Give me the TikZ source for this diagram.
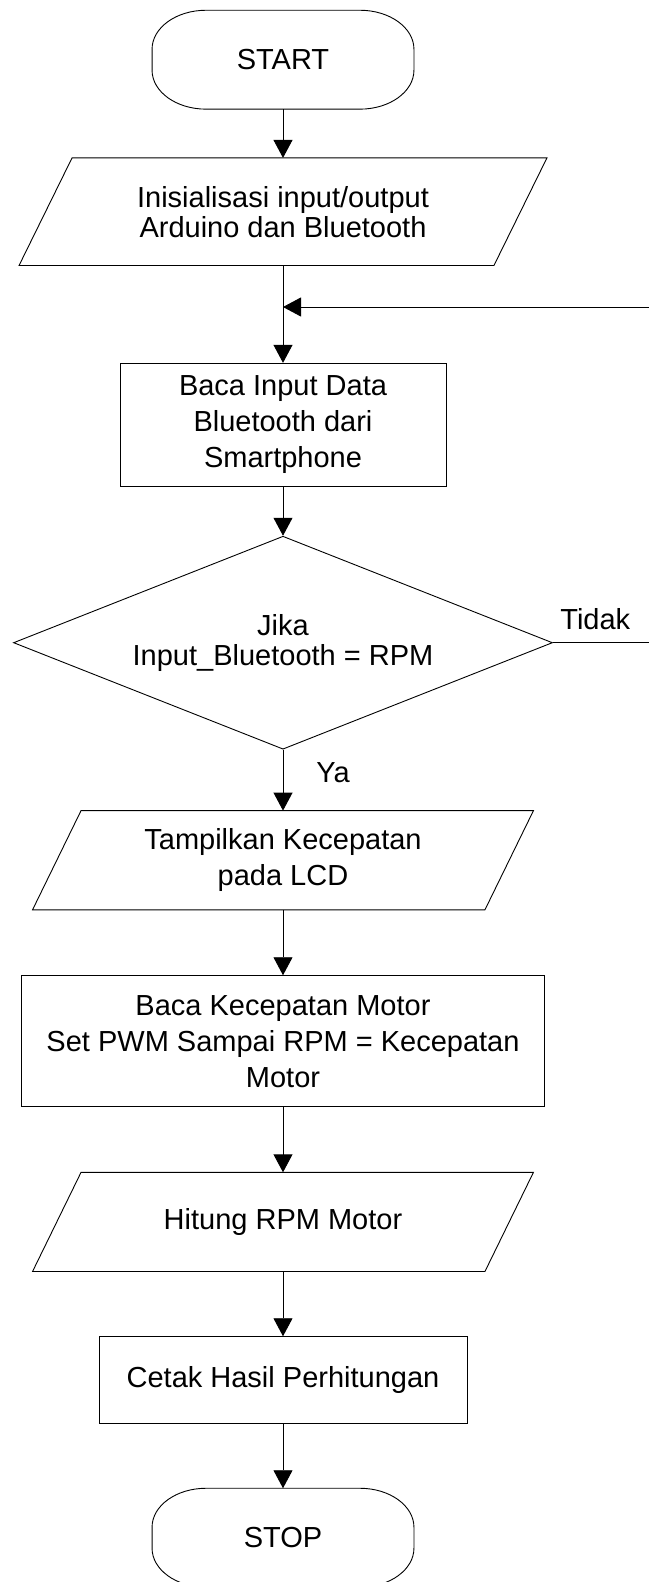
\documentclass[tikz,border=0pt]{standalone}
\usepackage{fontspec}
\setmainfont{Liberation Sans}
\usetikzlibrary{shapes.geometric,arrows.meta,positioning}

\begin{document}
\begin{tikzpicture}[x=1pt,y=-1pt,line width=0.9pt,
    font=\fontsize{29}{36}\selectfont,
    terminal/.style={minimum width=261pt,minimum height=98pt,inner sep=0pt},
    proses/.style={draw,align=center,inner sep=0pt},
    io/.style={align=center,inner sep=0pt},
    keputusan/.style={draw,diamond,aspect=2.53,align=center,inner sep=0pt,
        minimum width=539pt,minimum height=213pt},
    panah/.style={-{Triangle[length=18pt,width=19pt]}}]
    \useasboundingbox (0,0) rectangle (648,1582);

    %Mulai
    \node[terminal] (start) at (283,59.7) {START};
    \node[io,minimum width=474pt,minimum height=106.7pt,font=\fontsize{29}{30}\selectfont] (init) at (283,211.7)
        {Inisialisasi input/output\\Arduino dan Bluetooth};
    \coordinate (gabung) at (283,307);
    \node[proses,minimum width=326pt,minimum height=123.4pt] (baca) at (283,425)
        {Baca Input Data\\Bluetooth dari\\Smartphone};

    %Kondisi
    \node[keputusan,font=\fontsize{29}{30}\selectfont] (cek) at (283,642.7)
        {Jika\\Input\_Bluetooth = RPM};
    \node[inner sep=0pt,above right=12pt and 7pt of cek.east] (tidak) {Tidak};
    \node[inner sep=0pt,below right=12pt and 33pt of cek.south] (ya) {Ya};

    %Motor
    \node[io,minimum width=451.5pt,minimum height=98.3pt] (lcd) at (283,860.2)
        {Tampilkan Kecepatan\\pada LCD};
    \node[proses,minimum width=523pt,minimum height=131pt] (pwm) at (283,1041.2)
        {Baca Kecepatan Motor\\Set PWM Sampai RPM = Kecepatan\\Motor};
    \node[io,minimum width=451.5pt,minimum height=98.3pt] (hitung) at (283,1221.9)
        {Hitung RPM Motor};
    \node[proses,minimum width=368pt,minimum height=86.6pt] (cetak) at (283,1380)
        {Cetak Hasil Perhitungan};
    \node[terminal] (stop) at (283,1537.7) {STOP};

    %Terminal
    \foreach \n in {start,stop}
        \draw ([xshift=54pt]\n.north west) -- ([xshift=-54pt]\n.north east)
            arc[start angle=90,end angle=0,x radius=54pt,y radius=39pt]
            -- ([yshift=39pt]\n.south east)
            arc[start angle=0,end angle=-90,x radius=54pt,y radius=39pt]
            -- ([xshift=54pt]\n.south west)
            arc[start angle=270,end angle=180,x radius=54pt,y radius=39pt]
            -- ([yshift=-39pt]\n.north west)
            arc[start angle=180,end angle=90,x radius=54pt,y radius=39pt] -- cycle;

    %Jajar genjang
    \foreach \n/\s in {init/26.5pt,lcd/24.25pt,hitung/24.25pt}
        \draw ([xshift=\s]\n.north west) -- ([xshift=\s]\n.north east)
            -- ([xshift=-\s]\n.south east) -- ([xshift=-\s]\n.south west) -- cycle;

    %Panah
    \draw[panah] (start) -- (init);
    \draw[panah] (init) -- (baca);
    \draw[panah] (baca) -- (cek);
    \draw[panah] (cek.east) -- ++(100,0) |- (gabung);
    \draw[panah] (cek) -- (lcd);
    \draw[panah] (lcd) -- (pwm);
    \draw[panah] (pwm) -- (hitung);
    \draw[panah] (hitung) -- (cetak);
    \draw[panah] (cetak) -- (stop);
\end{tikzpicture}
\end{document}
